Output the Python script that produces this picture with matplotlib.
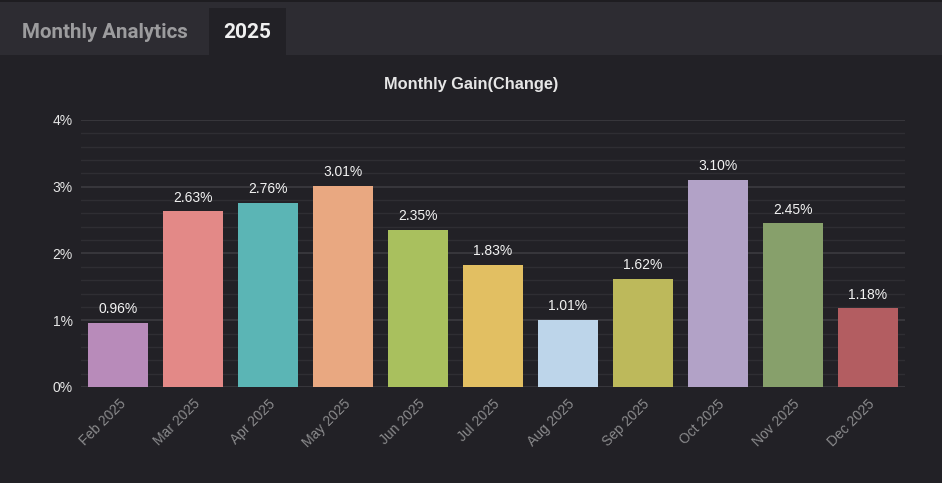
import matplotlib
matplotlib.use("Agg")
import matplotlib.pyplot as plt
from matplotlib.patches import Rectangle
from matplotlib.ticker import MultipleLocator, FuncFormatter

months = ["Feb 2025", "Mar 2025", "Apr 2025", "May 2025", "Jun 2025", "Jul 2025",
          "Aug 2025", "Sep 2025", "Oct 2025", "Nov 2025", "Dec 2025"]
gains = [0.96, 2.63, 2.76, 3.01, 2.35, 1.83, 1.01, 1.62, 3.10, 2.45, 1.18]
colors = ["#b88bba", "#e38987", "#5bb5b5", "#e9a881", "#a9c05e", "#e2bf62",
          "#bdd5ea", "#bdb95b", "#b2a2c7", "#87a06b", "#b35d61"]
yticks = [0, 1, 2, 3, 4]

W, H = 942, 483
fig = plt.figure(figsize=(W / 100, H / 100), dpi=100)
bg = "#222126"
fig.patch.set_facecolor(bg)

# header bar
fig.patches.append(Rectangle((0, 1 - 55 / H), 1, 55 / H, transform=fig.transFigure,
                             facecolor="#2d2c32", edgecolor="none", zorder=0))
fig.patches.append(Rectangle((0, 1 - 2 / H), 1, 2 / H, transform=fig.transFigure,
                             facecolor="#1e1d21", edgecolor="none", zorder=0))
fig.patches.append(Rectangle((209 / W, 1 - 55 / H), 77 / W, 47 / H, transform=fig.transFigure,
                             facecolor=bg, edgecolor="none", zorder=1))
fig.text(22 / W, 1 - 32 / H, "Monthly Analytics", color="#9c9c9e", fontsize=14.8,
         fontweight="bold", family=["Roboto", "DejaVu Sans"], va="center", ha="left")
fig.text(247.5 / W, 1 - 32 / H, "2025", color="#f0f0f0", fontsize=15,
         fontweight="bold", family=["Roboto", "DejaVu Sans"], va="center", ha="center")

ax = fig.add_axes([81 / W, 1 - 387 / H, (905 - 81) / W, (387 - 120) / H])
ax.set_facecolor(bg)
x = list(range(len(months)))
bars = ax.bar(x, gains, width=0.8, color=colors, zorder=3)
for xi, v in zip(x, gains):
    ax.text(xi, v + 0.1, f"{v:.2f}%", ha="center", va="bottom", color="#f2f2f2",
            fontsize=10, family=["Liberation Sans", "DejaVu Sans"], zorder=4)

ax.set_xlim(-0.5, len(months) - 0.5)
ax.set_ylim(0, 4)
ax.set_yticks(yticks)
ax.yaxis.set_major_formatter(FuncFormatter(lambda v, p: f"{v:.0f}%"))
ax.yaxis.set_minor_locator(MultipleLocator(0.2))
ax.grid(which="major", axis="y", color="#3c3b40", linewidth=1.2, zorder=0)
ax.grid(which="minor", axis="y", color="#2f2e33", linewidth=1.0, zorder=0)
ax.set_xticks(x)
ax.set_xticklabels(months, rotation=45, ha="right", rotation_mode="anchor",
                   color="#8a8a8c", fontsize=10, family=["Liberation Sans", "DejaVu Sans"])
for t in ax.get_yticklabels():
    t.set_color("#e6e6e6")
    t.set_fontsize(10)
    t.set_family(["Liberation Sans", "DejaVu Sans"])
    t.set_va("top")
    t.set_y(0)
ax.tick_params(axis="both", which="both", length=0)
ax.tick_params(axis="y", pad=6)
ax.tick_params(axis="x", pad=7)
for s in ax.spines.values():
    s.set_visible(False)
for t in ax.get_yticklabels():
    t.set_va("center_baseline")

fig.text(0.5, 1 - 84 / H, "Monthly Gain(Change)", color="#e6e6e6",
         fontsize=11.8, fontweight="bold", family=["Liberation Sans", "DejaVu Sans"],
         ha="center", va="center")

fig.savefig("out.png", dpi=100, facecolor=bg)
